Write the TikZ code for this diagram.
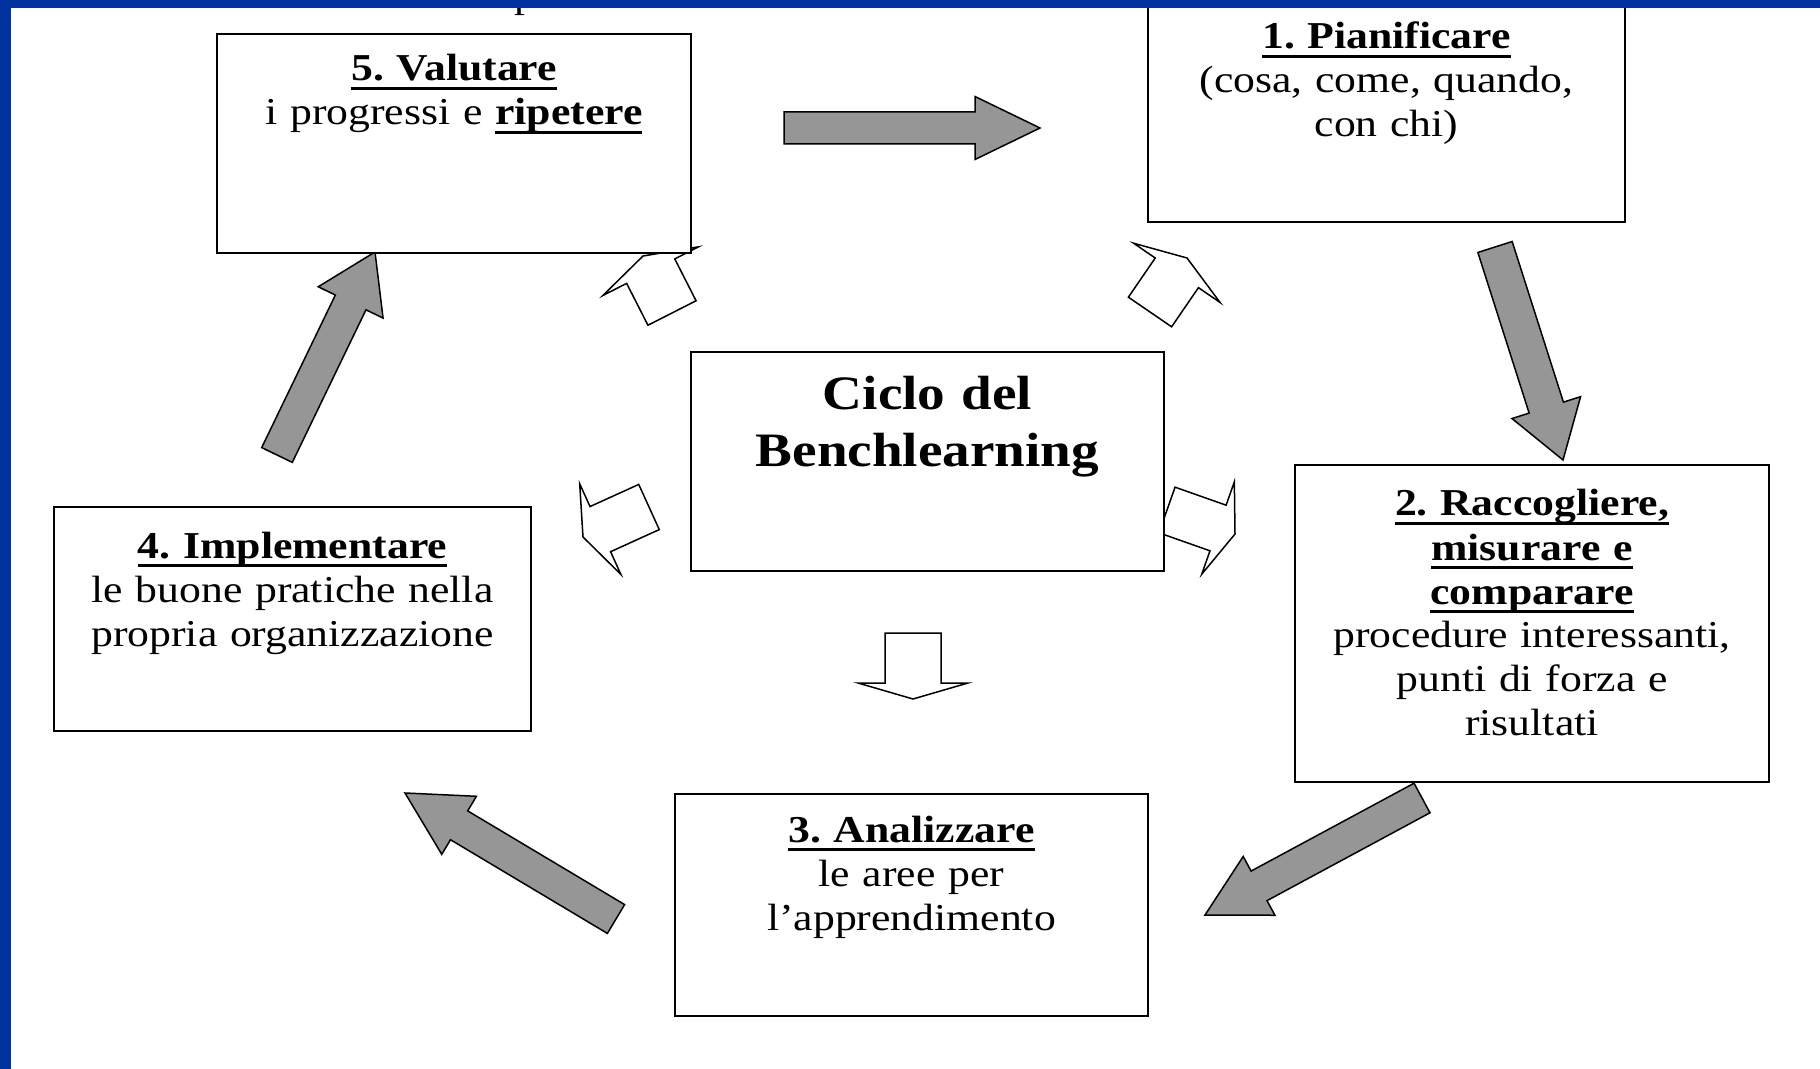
\documentclass[tikz,border=0pt]{standalone}
\usepackage{fontspec}
\setmainfont[FakeStretch=1.15]{Liberation Serif}
\frenchspacing
\usetikzlibrary{calc}
\definecolor{slideblue}{RGB}{0,51,160}
\definecolor{arrowgray}{RGB}{150,150,150}
\tikzset{
  stepbox/.style={draw, line width=1pt, fill=white, inner sep=0pt},
  steptext/.style={anchor=base, inner sep=0pt, text width=230pt, align=center,
    font=\fontsize{19}{22}\selectfont},
  bigarrow/.style={draw, line width=0.75pt, fill=arrowgray},
  smallarrow/.style={draw, line width=0.75pt, fill=white},
}
% bold text with a thick underline
\newcommand{\stepul}[1]{\leavevmode\setbox0\hbox{\bfseries #1}\rlap{\rule[-4.5pt]{\wd0}{1.6pt}}\box0}
% block arrow: [style]{from}{to}{half shaft}{half head}{head length}
\newcommand{\blockarrow}[6][]{%
  \coordinate (ba-h) at ($(#3)!#6!(#2)$);
  \draw[#1] ($(#2)!#4!90:(#3)$) -- ($(ba-h)!#4!90:(#3)$) -- ($(ba-h)!#5!90:(#3)$)
    -- (#3) -- ($(ba-h)!#5!-90:(#3)$) -- ($(ba-h)!#4!-90:(#3)$)
    -- ($(#2)!#4!-90:(#3)$) -- cycle;}
\begin{document}
\begin{tikzpicture}[x=0.5pt, y=-0.5pt]
\useasboundingbox (0,0) rectangle (1820,1069);
\fill[white] (0,0) rectangle (1820,1069);
\node[anchor=base west, inner sep=0pt, font=\fontsize{19}{22}\selectfont] (cut) at (514,8) {p};

% the big grey arrows of the cycle
\coordinate (a1s) at (784,128);  \coordinate (a1e) at (1040,128);
\coordinate (a2s) at (1495,247); \coordinate (a2e) at (1563,460);
\coordinate (a3s) at (1422,798); \coordinate (a3e) at (1205,915);
\coordinate (a4s) at (616,919);  \coordinate (a4e) at (405,793);
\coordinate (a5s) at (277,455);  \coordinate (a5e) at (375,252);
\blockarrow[bigarrow]{a1s}{a1e}{8pt}{15.75pt}{32.5pt}
\blockarrow[bigarrow]{a2s}{a2e}{9pt}{18pt}{27.5pt}
\blockarrow[bigarrow]{a3s}{a3e}{8.4pt}{16.7pt}{30.7pt}
\blockarrow[bigarrow]{a4s}{a4e}{8.4pt}{16.9pt}{31.5pt}
\blockarrow[bigarrow]{a5s}{a5e}{8.5pt}{18pt}{28pt}

% small white arrows round the centre
\coordinate (w5s) at (672,313);  \coordinate (w5e) at (643,256);
\coordinate (w1s) at (1150,312); \coordinate (w1e) at (1187,258);
\coordinate (w4s) at (649,507);  \coordinate (w4e) at (583,537);
\coordinate (w2s) at (1167,510); \coordinate (w2e) at (1235,534);
\coordinate (w3s) at (913,633);  \coordinate (w3e) at (913,699);
\blockarrow[smallarrow]{w5s}{w5e}{13.5pt}{26.8pt}{8.5pt}
\blockarrow[smallarrow]{w1s}{w1e}{13.1pt}{26.2pt}{9pt}
\blockarrow[smallarrow]{w4s}{w4e}{12.4pt}{24.9pt}{9.5pt}
\blockarrow[smallarrow]{w2s}{w2e}{12.1pt}{24.5pt}{9pt}
\blockarrow[smallarrow]{w3s}{w3e}{14pt}{27.5pt}{8pt}

% boxes
\node[stepbox, minimum width=237pt, minimum height=109.5pt] (valutare) at (454,143.5) {};
\node[stepbox, minimum width=238.5pt, minimum height=110pt] (pianificare) at (1386.5,112) {};
\node[stepbox, minimum width=236.5pt, minimum height=109.5pt] (ciclo) at (927.5,461.5) {};
\node[stepbox, minimum width=238.5pt, minimum height=112pt] (implementare) at (292.5,619) {};
\node[stepbox, minimum width=237pt, minimum height=158.5pt] (raccogliere) at (1532,623.5) {};
\node[stepbox, minimum width=236.5pt, minimum height=111pt] (analizzare) at (911.5,905) {};

% texts
\node[steptext] (valutareT) at ([yshift=-24pt]valutare.north)
  {\stepul{5. Valutare}\\ i progressi e \stepul{ripetere}};
\node[steptext] (pianificareT) at ([yshift=-24pt]pianificare.north)
  {\stepul{1. Pianificare}\\ (cosa, come, quando,\\ con chi)};
\node[steptext, font=\bfseries\fontsize{24}{28.5}\selectfont] (cicloT) at ([yshift=-29pt]ciclo.north)
  {Ciclo del\\ Benchlearning};
\node[steptext] (implementareT) at ([yshift=-26pt]implementare.north)
  {\stepul{4. Implementare}\\ le buone pratiche nella\\ propria organizzazione};
\node[steptext] (raccogliereT) at ([yshift=-26pt]raccogliere.north)
  {\stepul{2. Raccogliere,}\\ \stepul{misurare e}\\ \stepul{comparare}\\
   procedure interessanti,\\ punti di forza e\\ risultati};
\node[steptext] (analizzareT) at ([yshift=-24.5pt]analizzare.north)
  {\stepul{3. Analizzare}\\ le aree per\\ l’apprendimento};

% slide frame
\fill[slideblue] (0,0) rectangle (1820,8);
\fill[slideblue] (0,0) rectangle (11,1069);
\end{tikzpicture}
\end{document}
